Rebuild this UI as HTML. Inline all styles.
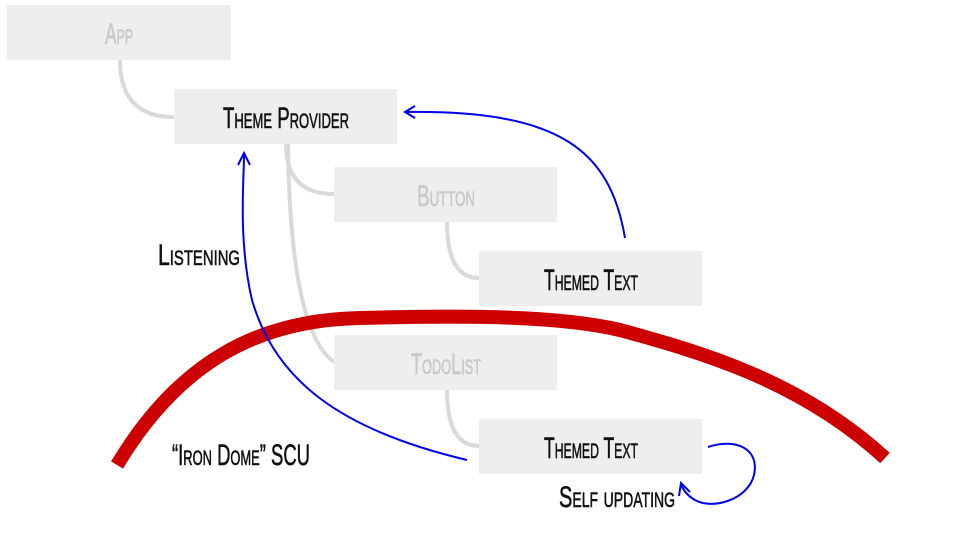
<!DOCTYPE html>
<html><head><style>
html,body{margin:0;padding:0;background:#fff;}
svg{display:block}
text{font-family:"Liberation Sans Narrow","Liberation Sans",sans-serif;font-variant:small-caps;}
</style></head><body>
<svg width="960" height="540" viewBox="0 0 960 540" xmlns="http://www.w3.org/2000/svg">
<g fill="none" stroke="#d9d9d9" stroke-width="4">
<path d="M120,60 Q120,117 174,117"/>
<path d="M286,144 Q286,194 334,194"/>
<path d="M288,144 Q290,330 334,362"/>
<path d="M447,222 Q447,278 479,278"/>
<path d="M447,390 Q447,446 479,446"/>
</g>
<g fill="#eeeeee">
<rect x="7" y="5" width="224" height="55"/>
<rect x="174" y="89" width="223" height="55"/>
<rect x="334" y="167" width="223" height="55"/>
<rect x="479" y="251" width="223" height="55"/>
<rect x="334" y="335" width="223" height="55"/>
<rect x="479" y="419" width="223" height="55"/>
</g>
<path d="M117,465 C180,360 260,320 360,318 C470,315 560,316 620,330 C700,352 800,380 885,458" fill="none" stroke="#cc0000" stroke-width="14"/>
<g font-size="30" text-anchor="middle" stroke-width="0.6">
<text x="119" y="44" fill="#c8c8c8" stroke="#c8c8c8" textLength="28" lengthAdjust="spacingAndGlyphs">App</text>
<text x="286" y="128" fill="#111" stroke="#111" textLength="126" lengthAdjust="spacingAndGlyphs">Theme Provider</text>
<text x="446" y="206" fill="#c8c8c8" stroke="#c8c8c8" textLength="58" lengthAdjust="spacingAndGlyphs">Button</text>
<text x="591" y="290" fill="#111" stroke="#111" textLength="94" lengthAdjust="spacingAndGlyphs">Themed Text</text>
<text x="446" y="374" fill="#c8c8c8" stroke="#c8c8c8" textLength="70" lengthAdjust="spacingAndGlyphs">TodoList</text>
<text x="591" y="458" fill="#111" stroke="#111" textLength="94" lengthAdjust="spacingAndGlyphs">Themed Text</text>
<text x="199" y="265" fill="#111" stroke="#111" textLength="82" lengthAdjust="spacingAndGlyphs">Listening</text>
<text x="241" y="465" fill="#111" stroke="#111" textLength="138" lengthAdjust="spacingAndGlyphs">“Iron Dome” SCU</text>
<text x="617" y="507" fill="#111" stroke="#111" textLength="116" lengthAdjust="spacingAndGlyphs">Self updating</text>
</g>
<g fill="none" stroke="#0000ee" stroke-width="2">
<path d="M625,238 C610,150 560,110 406,112"/>
<path d="M415,106 L405,112 L415,118"/>
<path d="M467,460 C340,430 275,380 252,300 C238,240 244,180 244,155"/>
<path d="M238,165 L244,153 L250,165"/>
<path d="M708,447 C735,438 760,448 754,475 C748,500 712,510 695,500 C688,496 683,490 681,484"/>
<path d="M679,496 L681,483 L690,492"/>
</g>
</svg>
</body></html>
